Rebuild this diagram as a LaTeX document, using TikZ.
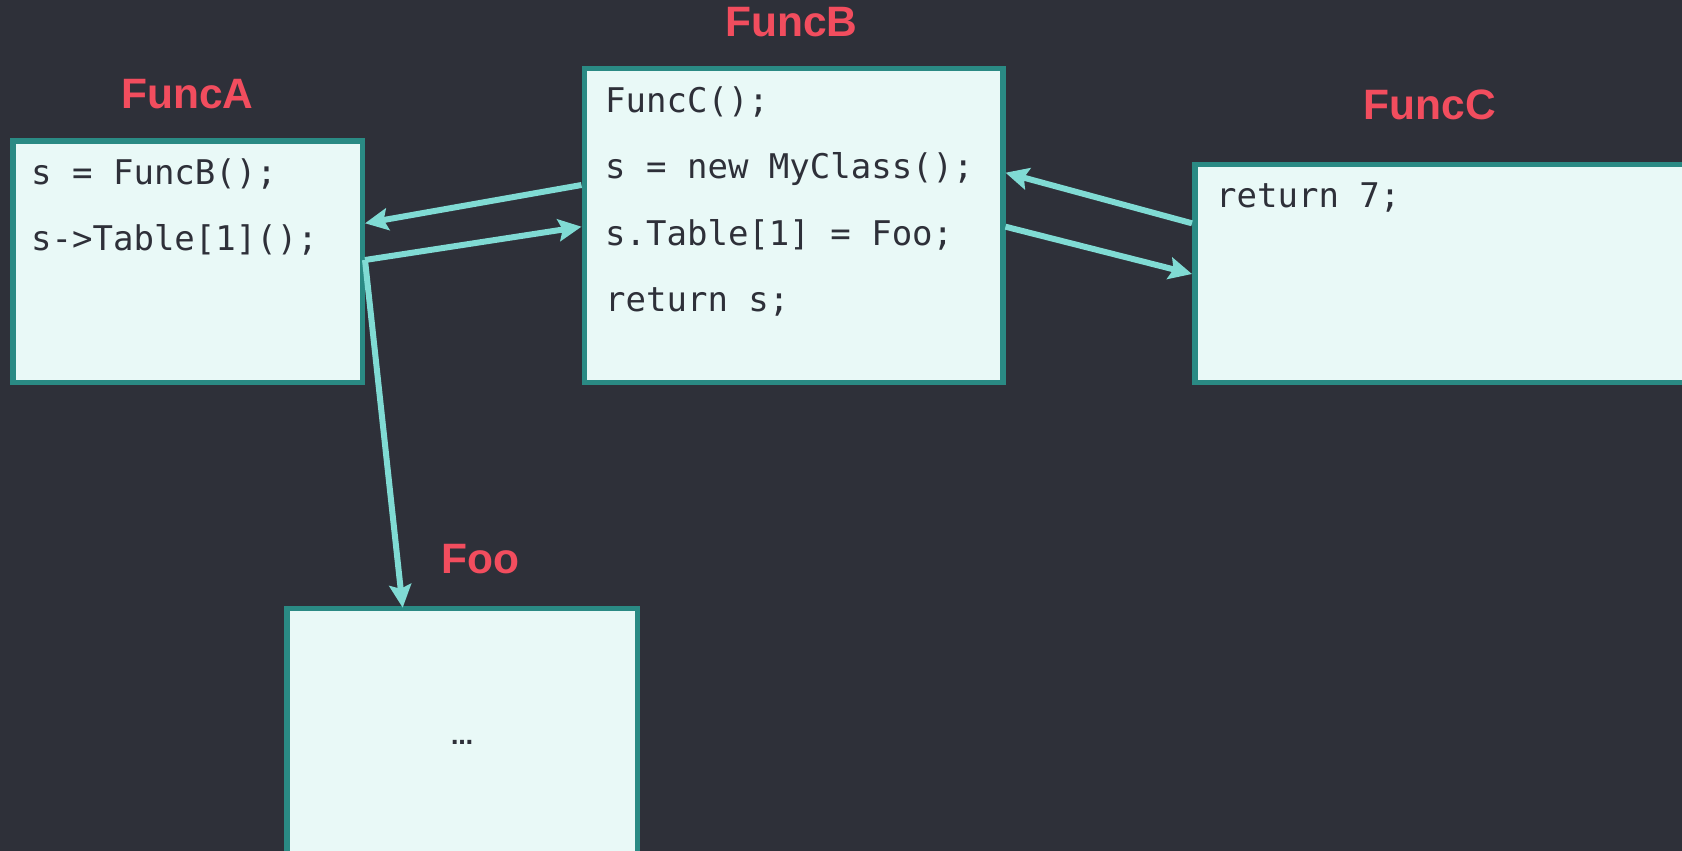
\documentclass[tikz,border=0pt]{standalone}
\usepackage{fontspec}
\setmainfont{Liberation Sans}
\newfontfamily\codefont{DejaVu Sans Mono}
\newfontfamily\dotsfont{DejaVu Sans}
\usetikzlibrary{arrows.meta}
\definecolor{bgc}{HTML}{2E3039}
\definecolor{boxfill}{HTML}{E9F9F7}
\definecolor{boxline}{HTML}{2A8A84}
\definecolor{arrowc}{HTML}{80DBD4}
\definecolor{labelc}{HTML}{F24D5E}
\definecolor{codec}{HTML}{2E3039}
\tikzset{
  fbox/.style={draw=boxline, fill=boxfill, line width=5.5pt, inner sep=0pt, anchor=north west},
  flabel/.style={text=labelc, font=\bfseries\fontsize{42.5}{43}\selectfont, anchor=base, inner sep=0pt},
  code/.style={text=codec, font=\codefont\fontsize{34}{40}\selectfont, anchor=base west, inner sep=0pt},
  conn/.style={draw=arrowc, line width=6pt, -{Stealth[length=23pt,width=22pt,inset=4pt]}},
}
\begin{document}
\begin{tikzpicture}[x=1pt,y=-1pt]
\useasboundingbox (0,0) rectangle (1682,851);
\fill[bgc] (0,0) rectangle (1682,851);
\clip (0,0) rectangle (1682,851);
% boxes
\node[fbox, minimum width=349.5pt, minimum height=241.5pt] (A) at (10,138) {};
\node[fbox, minimum width=418.5pt, minimum height=313.5pt] (B) at (581.5,66) {};
\node[fbox, minimum width=600pt, minimum height=218pt] (C) at (1192,161.7) {};
\node[fbox, minimum width=350.5pt, minimum height=400pt] (Foo) at (284,605.7) {};
% labels
\node[flabel] (LA) at (187.5,108) {FuncA};
\node[flabel] (LB) at (791.3,37) {FuncB};
\node[flabel] (LC) at (1430,119.3) {FuncC};
\node[flabel] (LF) at (480.3,573.7) {Foo};
% code
\node[code] (a1) at (31,184) {s = FuncB();};
\node[code] (a2) at (31,250) {s->Table[1]();};
\node[code] (b1) at (605,113) {FuncC();};
\node[code] (b2) at (605,178.5) {s = new MyClass();};
\node[code] (b3) at (605,245) {s.Table[1] = Foo;};
\node[code] (b4) at (605,311.5) {return s;};
\node[code] (c1) at (1216,207) {return 7;};
\node[text=codec, font=\dotsfont\bfseries\fontsize{22}{22}\selectfont, inner sep=0pt] (f1) at (462,742) {…};
% connector points
\coordinate (pA1) at (A.east |- 0,223.3);
\coordinate (pA2) at (A.east |- 0,260);
\coordinate (pB1) at (B.west |- 0,185);
\coordinate (pB2) at (B.west |- 0,226.7);
\coordinate (pB3) at (B.east |- 0,172.7);
\coordinate (pB4) at (B.east |- 0,226.7);
\coordinate (pC1) at (C.west |- 0,223.3);
\coordinate (pC2) at (C.west |- 0,274);
\coordinate (pF) at (402.7,607.7);
% connectors
\draw[conn] (pB1) -- (pA1);
\draw[conn] (pA2) -- (pB2);
\draw[conn] (pA2) -- (pF);
\draw[conn] (pC1) -- (pB3);
\draw[conn] (pB4) -- (pC2);
\end{tikzpicture}
\end{document}
